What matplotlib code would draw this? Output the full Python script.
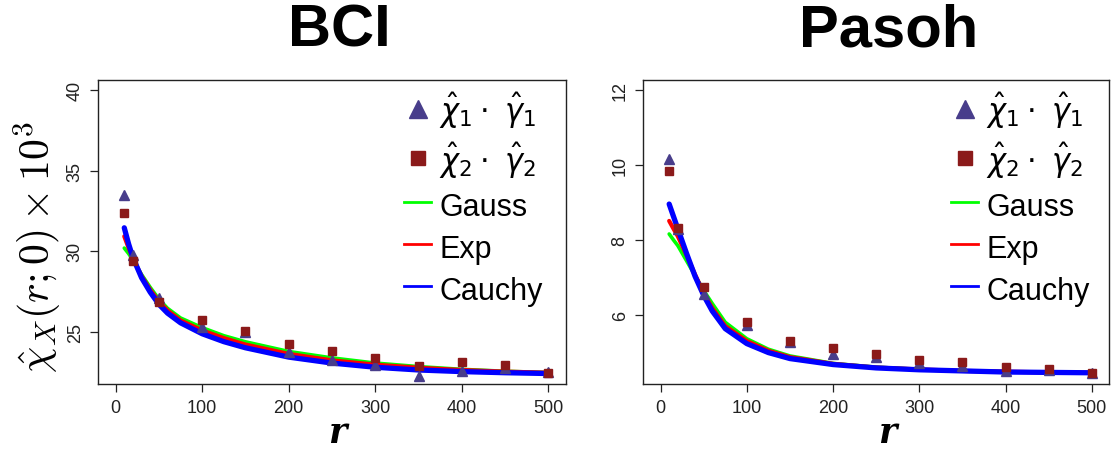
import numpy as np
import matplotlib
matplotlib.use('Agg')
import matplotlib.pyplot as plt
from matplotlib.lines import Line2D

# observed estimates at each distance r
r_pts = [10, 20, 50, 100, 150, 200, 250, 300, 350, 400, 450, 500]
bci_chi1 = [33.5, 29.77, 27.06, 25.3, 24.95, 23.73, 23.25, 22.94, 22.23, 22.58, 22.73, 22.48]
bci_chi2 = [32.4, 29.36, 26.86, 25.75, 25.02, 24.25, 23.77, 23.36, 22.86, 23.1, 22.94, 22.44]
pasoh_chi1 = [10.16, 8.3, 6.56, 5.72, 5.28, 4.96, 4.87, 4.72, 4.63, 4.49, 4.52, 4.45]
pasoh_chi2 = [9.85, 8.31, 6.74, 5.8, 5.31, 5.12, 4.96, 4.78, 4.74, 4.6, 4.54, 4.45]

# fitted curves
r_fit = [10, 15, 20, 30, 40, 50, 60, 75, 100, 125, 150, 200, 250, 300, 350, 400, 450, 500]
bci_gauss = [30.19, 29.85, 29.45, 28.55, 27.75, 27.02, 26.45, 25.85, 25.25, 24.75, 24.37,
             23.77, 23.37, 23.05, 22.83, 22.66, 22.54, 22.46]
bci_exp = [30.92, 30.2, 29.55, 28.45, 27.6, 26.88, 26.32, 25.7, 25.08, 24.6, 24.2,
           23.62, 23.22, 22.95, 22.76, 22.62, 22.52, 22.45]
bci_cauchy = [31.45, 30.45, 29.6, 28.35, 27.45, 26.7, 26.15, 25.55, 24.87, 24.38, 24.0,
              23.42, 23.05, 22.79, 22.62, 22.52, 22.45, 22.4]
pasoh_gauss = [8.16, 8.0, 7.85, 7.45, 7.05, 6.65, 6.3, 5.8, 5.36, 5.08, 4.9,
               4.7, 4.6, 4.54, 4.5, 4.48, 4.46, 4.45]
pasoh_exp = [8.51, 8.3, 8.1, 7.6, 7.08, 6.58, 6.18, 5.7, 5.3, 5.04, 4.87,
             4.69, 4.59, 4.54, 4.5, 4.48, 4.46, 4.45]
pasoh_cauchy = [8.96, 8.63, 8.3, 7.65, 7.03, 6.52, 6.1, 5.63, 5.23, 4.99, 4.83,
                4.67, 4.58, 4.53, 4.5, 4.47, 4.46, 4.45]

titles = ['BCI', 'Pasoh']
x_ticks = [0, 100, 200, 300, 400, 500]
bci_yticks = [25, 30, 35, 40]
pasoh_yticks = [6, 8, 10, 12]

plt.rcParams['font.family'] = ['Liberation Sans', 'DejaVu Sans']

W, H = 1112, 452
fig = plt.figure(figsize=(W / 100, H / 100), dpi=100)

def px_axes(left, right, top, bottom):
    return fig.add_axes([left / W, 1 - bottom / H, (right - left) / W, (bottom - top) / H])

ax1 = px_axes(98.3, 565.7, 80.5, 385)
ax2 = px_axes(643.3, 1109, 80.5, 385)

tri_col = '#483D8B'
sq_col = '#8B1A1A'

panels = [
    (ax1, bci_chi1, bci_chi2, bci_gauss, bci_exp, bci_cauchy, bci_yticks, (21.75, 40.66), 0.51, 0.964),
    (ax2, pasoh_chi1, pasoh_chi2, pasoh_gauss, pasoh_exp, pasoh_cauchy, pasoh_yticks, (4.15, 12.29), 0.523, 0.972),
]

for ax, c1, c2, g, e, c, yt, yl, xlab_x, leg_x in panels:
    ax.plot(r_fit, g, color='#00FF00', lw=2.6, solid_capstyle='round')
    ax.plot(r_fit, e, color='#FF0000', lw=3.0, solid_capstyle='round')
    ax.plot(r_fit, c, color='#0000FF', lw=3.8, solid_capstyle='round')
    ax.plot(r_pts, c1, ls='none', marker='^', ms=7.5, color=tri_col)
    ax.plot(r_pts, c2, ls='none', marker='s', ms=6.3, color=sq_col)
    ax.set_xlim(-20, 520)
    ax.set_ylim(*yl)
    ax.set_xticks(x_ticks)
    ax.set_yticks(yt)
    ax.tick_params(axis='both', labelsize=13, length=5.5, width=0.9, pad=5, colors='#222222')
    ax.tick_params(axis='y', labelrotation=90)
    for lab in ax.get_yticklabels():
        lab.set_verticalalignment('center')
    for sp in ax.spines.values():
        sp.set_linewidth(1.0)
        sp.set_color('#222222')
    ax.set_xlabel('r', fontsize=25, fontstyle='italic', fontweight='bold',
                  family='DejaVu Serif', va='baseline')
    ax.xaxis.set_label_coords(xlab_x, -(443 - 385) / 304.5)

    handles = [
        Line2D([], [], ls='none', marker='^', ms=13.5, color=tri_col),
        Line2D([], [], ls='none', marker='s', ms=9.6, color=sq_col),
        Line2D([], [], color='#00FF00', lw=2),
        Line2D([], [], color='#FF0000', lw=2),
        Line2D([], [], color='#0000FF', lw=2),
    ]
    labels = [r'$\hat{\chi}_1\cdot\ \hat{\gamma}_1$', r'$\hat{\chi}_2\cdot\ \hat{\gamma}_2$',
              'Gauss', 'Exp', 'Cauchy']
    ax.legend(handles, labels, loc='upper right', bbox_to_anchor=(leg_x, 0.985),
              frameon=False, fontsize=22,
              handlelength=0.87, handletextpad=0.28, handleheight=1.2,
              labelspacing=0.3, borderaxespad=0, borderpad=0.2)

fig.text(339 / W, 1 - 46.7 / H, titles[0], fontsize=43, fontweight='bold', ha='center', va='baseline')
fig.text(889 / W, 1 - 46.7 / H, titles[1], fontsize=43, fontweight='bold', ha='center', va='baseline')

fig.text(37 / W, 1 - 247 / H, r'$\hat{\chi}_X(r;0)\times\mathbf{10^3}$', fontsize=30,
         rotation=90, ha='center', va='center', math_fontfamily='cm')

fig.savefig('out.png', dpi=100)
